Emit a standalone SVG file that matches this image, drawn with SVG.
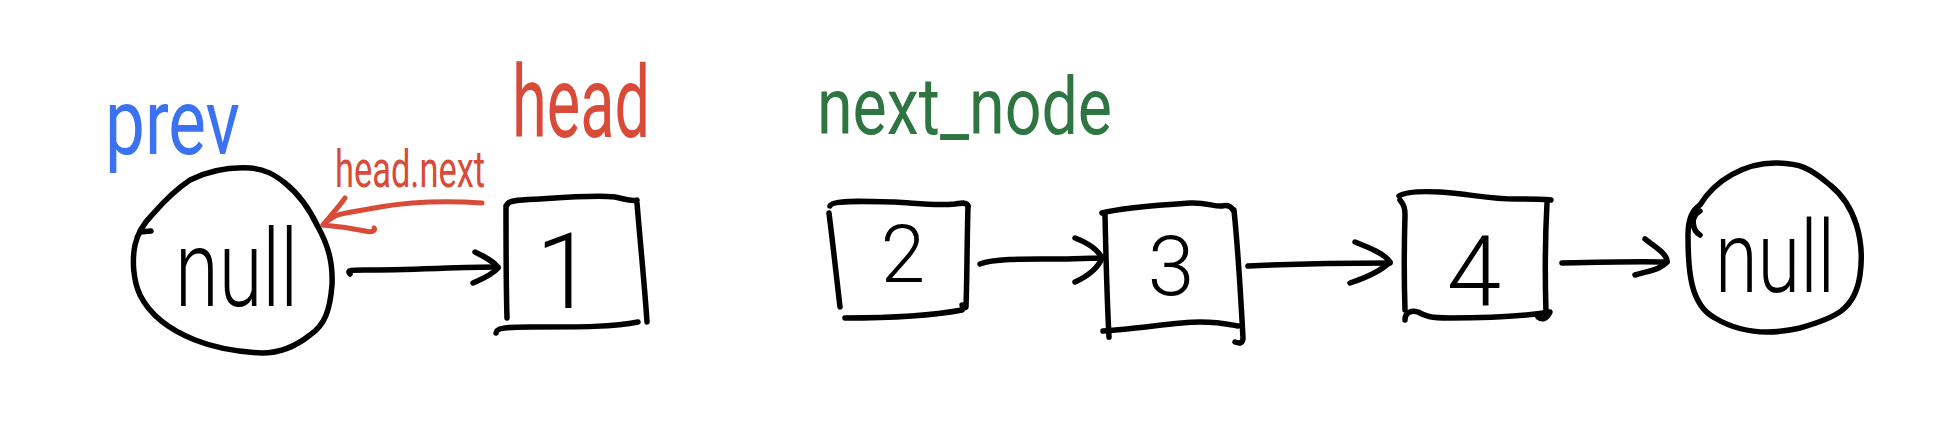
<svg xmlns="http://www.w3.org/2000/svg" width="1934" height="426" viewBox="0 0 1934 426">
<style>
.ink{fill:none;stroke:#000;stroke-width:5.5;stroke-linecap:round;stroke-linejoin:round}
.red{fill:none;stroke:#d94a38;stroke-width:5;stroke-linecap:round;stroke-linejoin:round}
.t{font-family:Roboto,"Liberation Sans",sans-serif;font-weight:300;fill:#000}
.lbl{font-family:Roboto,"Liberation Sans",sans-serif;font-weight:400}
</style>
<rect width="1934" height="426" fill="#fff"/>
<g id="label-prev"><text class="lbl" x="105" y="154" font-size="92" textLength="135" lengthAdjust="spacingAndGlyphs" fill="#3a72f2">prev</text></g>
<g id="label-head"><text class="lbl" x="512" y="137" font-size="100" textLength="138" lengthAdjust="spacingAndGlyphs" fill="#d94a38">head</text></g>
<g id="label-next-node"><text class="lbl" x="817" y="134" font-size="80" textLength="295" lengthAdjust="spacingAndGlyphs" fill="#2f7542">next_node</text></g>
<g id="node-null-left">
<path class="ink" d="M190 180 C210 170,230 167,250 168 C265 169,275 175,285 183 C300 195,310 210,318 227 C328 245,333 262,332 285 C330 310,325 325,310 335 C295 347,280 353,262 353 C240 352,215 348,195 340 C170 330,150 315,140 295 C133 280,132 260,135 245 C138 232,145 222,152 215 C165 200,175 190,190 180 Z"/>
<path class="ink" d="M140 232 L151 231"/>
<text class="t" x="175" y="306" font-size="108" textLength="123" lengthAdjust="spacingAndGlyphs">null</text>
</g>
<g id="node-1">
<path class="ink" d="M507 205 C508 200,520 200,540 199 C570 197,595 195,615 197 C625 199,632 202,637 200"/>
<path class="ink" d="M506 206 C506 240,506 285,507 318"/>
<path class="ink" d="M637 203 C640 240,645 290,647 322"/>
<path class="ink" d="M496 333 C496 328,505 327,530 327 C580 327,615 327,638 322"/>
<text class="t" x="565" y="308" font-size="106" text-anchor="middle">1</text>
</g>
<g id="node-2">
<path class="ink" d="M830 206 C832 200,860 201,895 202 C915 203,935 206,955 204 C962 203,967 202,968 206"/>
<path class="ink" d="M829 213 C833 245,837 280,840 307"/>
<path class="ink" d="M968 206 C967 240,967 280,966 307 C964 309,962 306,962 305"/>
<path class="ink" d="M845 318 C880 318,930 316,962 310"/>
<text class="t" x="903" y="282" font-size="80" text-anchor="middle">2</text>
</g>
<g id="node-3">
<path class="ink" d="M1102 213 C1120 208,1160 205,1190 203 C1205 202,1215 207,1222 206 C1226 205,1230 205,1233 210"/>
<path class="ink" d="M1105 215 C1106 260,1107 300,1109 337"/>
<path class="ink" d="M1234 210 C1238 250,1241 300,1243 338 C1243 343,1240 344,1235 342"/>
<path class="ink" d="M1103 331 C1140 329,1175 322,1200 322 C1220 322,1232 325,1238 326"/>
<text class="t" x="1171" y="295" font-size="84" text-anchor="middle">3</text>
</g>
<g id="node-4">
<path class="ink" d="M1399 196 C1405 192,1420 191,1440 192 C1470 194,1495 200,1520 199 C1535 199,1545 199,1551 200"/>
<path class="ink" d="M1400 200 C1404 205,1405 208,1405 215 C1404 250,1404 280,1405 310"/>
<path class="ink" d="M1547 203 C1545 240,1545 280,1546 313"/>
<path class="ink" d="M1405 320 C1405 312,1412 310,1418 312 C1425 316,1430 318,1450 318 C1490 318,1525 316,1550 312 C1547 318,1543 321,1538 317"/>
<text class="t" x="1474" y="306" font-size="98" text-anchor="middle">4</text>
</g>
<g id="node-null-right">
<path class="ink" d="M1700 205 C1715 180,1745 163,1775 163 C1800 163,1810 168,1830 185 C1855 205,1865 240,1860 275 C1855 310,1835 318,1800 328 C1770 335,1740 333,1715 318 C1690 305,1688 270,1688 235 C1688 215,1695 208,1700 205 Z"/>
<path class="ink" d="M1700 211 C1690 216,1692 230,1700 235"/>
<text class="t" x="1715" y="292" font-size="100" textLength="120" lengthAdjust="spacingAndGlyphs">null</text>
</g>
<g id="connectors">
<path class="ink" d="M350 274 C346 270,352 270,365 270 C410 270,460 267,498 267"/>
<path class="ink" d="M475 252 C485 257,495 262,498 268 C492 275,482 279,473 283"/>
<path class="ink" d="M980 264 C995 258,1030 259,1060 259 C1080 259,1095 258,1102 258"/>
<path class="ink" d="M1075 238 C1088 243,1098 250,1102 258 C1098 268,1088 276,1075 282"/>
<path class="ink" d="M1248 266 C1290 264,1350 263,1390 263"/>
<path class="ink" d="M1355 242 C1370 248,1385 254,1390 262 C1380 272,1365 278,1350 283"/>
<path class="ink" d="M1562 263 C1600 262,1640 261,1667 262"/>
<path class="ink" d="M1645 239 C1656 247,1668 255,1667 262 C1660 270,1648 271,1635 275"/>
<path class="red" d="M482 203 C450 201,410 202,380 207 C360 211,345 212,335 216 C330 219,325 222,323 225"/>
<path class="red" d="M345 198 C338 208,330 216,323 225 C335 226,350 228,365 231 C373 233,376 230,374 228"/>
<text x="335" y="187" font-size="52" textLength="150" lengthAdjust="spacingAndGlyphs" fill="#d94a38" font-family="Roboto, 'Liberation Sans', sans-serif">head.next</text>
</g>
</svg>
